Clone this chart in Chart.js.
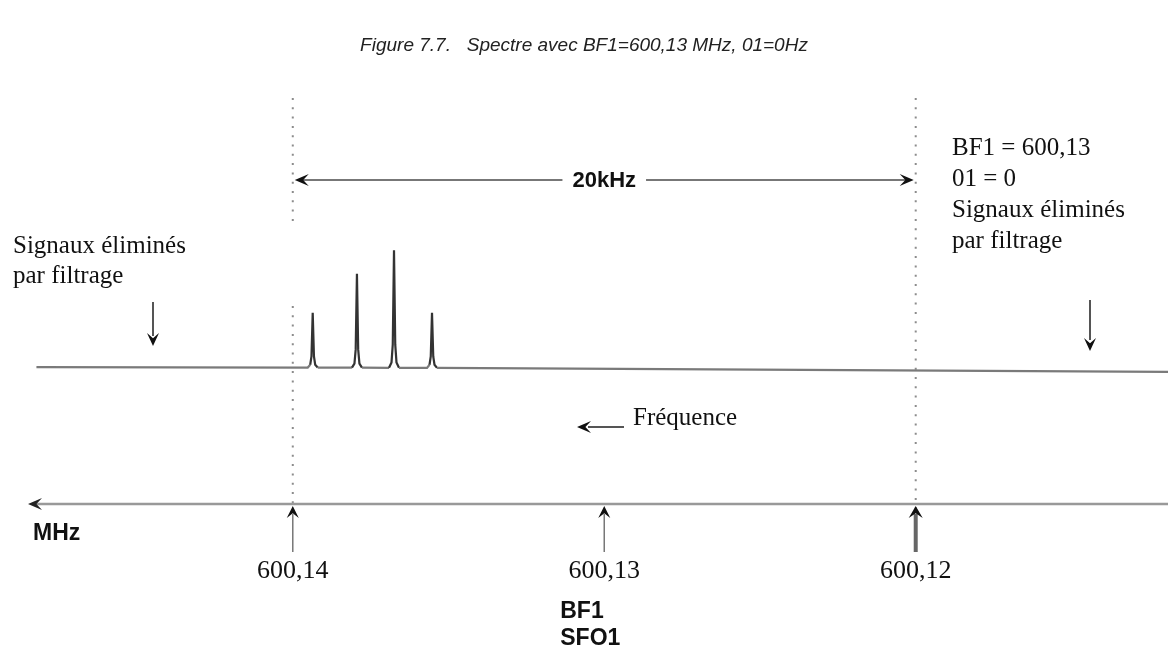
<!DOCTYPE html>
<html>
<head>
<meta charset="utf-8">
<script src="https://cdn.jsdelivr.net/npm/chart.js@4.4.1/dist/chart.umd.min.js"></script>
<style>
  html, body { margin: 0; padding: 0; background: #fff; }
  #wrap { width: 1168px; height: 648px; position: relative; }
</style>
</head>
<body>
<div id="wrap"><canvas id="spectrum"></canvas></div>
<script>
/* =========================
   DATA
========================= */
// spectrum trace: frequency (MHz) and relative intensity (%), baseline + 4 lines
const specMHz = [
  600.14823,
  600.13952, 600.13944, 600.13940, 600.13936, 600.13932, 600.13928, 600.13920,
  600.13810, 600.13802, 600.13798, 600.13794, 600.13790, 600.13786, 600.13778,
  600.13691, 600.13683, 600.13679, 600.13675, 600.13671, 600.13667, 600.13659,
  600.13569, 600.13561, 600.13557, 600.13553, 600.13549, 600.13545, 600.13537,
  600.11190
];
const specInt = [
  1,
  0.6, 3, 10, 47, 10, 3, 0.6,
  0.5, 4, 16, 80, 16, 4, 0.5,
  0.4, 5, 20, 100, 20, 5, 0.4,
  0.3, 3, 10, 47, 10, 3, 0.3,
  -3
];

// frequency axis ticks
const tickMHz = [600.14, 600.13, 600.12];
const tickLabels = ["600,14", "600,13", "600,12"];

// spectral window (20 kHz) edges
const windowMHz = [600.14, 600.12];
const windowLabel = "20kHz";

const titleText = "Figure 7.7.   Spectre avec BF1=600,13 MHz, 01=0Hz";
const leftNote = ["Signaux éliminés", "par filtrage"];
const rightNote = ["BF1 = 600,13", "01 = 0", "Signaux éliminés", "par filtrage"];
const freqNote = "Fréquence";
const unitLabel = "MHz";
const centerNote = ["BF1", "SFO1"];

/* =========================
   HELPERS
========================= */
const SERIF = "'Liberation Serif', 'Times New Roman', serif";
const SANS = "'Liberation Sans', Arial, sans-serif";

// swept arrow head, tip at (x,y), pointing along (dx,dy)
function arrowHead(ctx, x, y, dx, dy, len, half) {
  const nx = -dy, ny = dx;
  const bx = x - dx * len, by = y - dy * len;
  ctx.beginPath();
  ctx.moveTo(x, y);
  ctx.lineTo(bx + nx * half, by + ny * half);
  ctx.lineTo(x - dx * len * 0.6, y - dy * len * 0.6);
  ctx.lineTo(bx - nx * half, by - ny * half);
  ctx.closePath();
  ctx.fill();
}

function line(ctx, x1, y1, x2, y2) {
  ctx.beginPath();
  ctx.moveTo(x1, y1);
  ctx.lineTo(x2, y2);
  ctx.stroke();
}

/* =========================
   ANNOTATIONS
========================= */
const overlay = {
  id: "overlay",
  beforeDatasetsDraw(chart) {
    const { ctx, scales: { x } } = chart;
    const xl = x.getPixelForValue(windowMHz[0]);
    const xr = x.getPixelForValue(windowMHz[1]);
    ctx.save();
    ctx.strokeStyle = "#8c8c8c";
    ctx.lineWidth = 2;
    ctx.setLineDash([2, 7.3]);
    [[xl, 98, 224], [xl, 306, 508], [xr, 98, 512]].forEach(([px, a, b]) => line(ctx, px, a, px, b));
    ctx.restore();
  },
  afterDatasetsDraw(chart) {
    const { ctx, scales: { x } } = chart;
    const xl = x.getPixelForValue(windowMHz[0]);
    const xr = x.getPixelForValue(windowMHz[1]);
    ctx.save();

    // title
    ctx.fillStyle = "#222";
    ctx.font = "italic 19px " + SANS;
    ctx.textAlign = "center";
    ctx.textBaseline = "middle";
    ctx.fillText(titleText, 584, 46);

    // 20 kHz window arrow
    const midX = (xl + xr) / 2;
    ctx.font = "bold 22px " + SANS;
    const lw = ctx.measureText(windowLabel).width;
    ctx.fillStyle = "#111";
    ctx.fillText(windowLabel, midX, 181);
    ctx.strokeStyle = "#777";
    ctx.lineWidth = 2;
    line(ctx, xl + 8, 180, midX - lw / 2 - 10, 180);
    line(ctx, midX + lw / 2 + 10, 180, xr - 8, 180);
    ctx.fillStyle = "#111";
    arrowHead(ctx, xl + 2, 180, -1, 0, 14, 6);
    arrowHead(ctx, xr - 2, 180, 1, 0, 14, 6);

    // notes
    ctx.textAlign = "left";
    ctx.textBaseline = "alphabetic";
    ctx.font = "25px " + SERIF;
    ctx.fillStyle = "#111";
    leftNote.forEach((t, i) => ctx.fillText(t, 13, 253 + i * 30));
    rightNote.forEach((t, i) => ctx.fillText(t, 952, 155 + i * 31));
    ctx.fillText(freqNote, 633, 425);

    // down arrows to the filtered regions
    ctx.strokeStyle = "#555";
    ctx.lineWidth = 2;
    line(ctx, 153, 302, 153, 336);
    arrowHead(ctx, 153, 346, 0, 1, 13, 6);
    line(ctx, 1090, 300, 1090, 340);
    arrowHead(ctx, 1090, 351, 0, 1, 13, 6);

    // "Fréquence" arrow
    line(ctx, 588, 427, 624, 427);
    arrowHead(ctx, 577, 427, -1, 0, 14, 6);

    // frequency axis
    ctx.strokeStyle = "#999";
    ctx.lineWidth = 2.5;
    line(ctx, 36, 504, 1168, 504);
    ctx.fillStyle = "#222";
    arrowHead(ctx, 28, 504, -1, 0, 14, 6);

    ctx.font = "bold 23px " + SANS;
    ctx.fillStyle = "#111";
    ctx.fillText(unitLabel, 33, 540);

    // tick arrows and labels
    ctx.textAlign = "center";
    ctx.font = "26px " + SERIF;
    tickMHz.forEach((v, i) => {
      const px = x.getPixelForValue(v);
      const bold = i === tickMHz.length - 1;
      ctx.strokeStyle = bold ? "#666" : "#777";
      ctx.lineWidth = bold ? 4 : 1.5;
      line(ctx, px, 552, px, 514);
      ctx.fillStyle = "#111";
      arrowHead(ctx, px, 506, 0, -1, 12, bold ? 7 : 6);
      ctx.fillText(tickLabels[i], px, 578);
    });

    ctx.textAlign = "left";
    ctx.font = "bold 23px " + SANS;
    const cx = x.getPixelForValue(tickMHz[1]) - 44;
    centerNote.forEach((t, i) => ctx.fillText(t, cx, 618 + i * 27));

    ctx.restore();
  }
};

/* =========================
   CHART
========================= */
new Chart(document.getElementById("spectrum"), {
  type: "scatter",
  data: {
    datasets: [{
      data: specMHz.map((v, i) => ({ x: v, y: specInt[i] })),
      showLine: true,
      borderColor: "#333",
      borderWidth: 2.2,
      pointRadius: 0,
      tension: 0,
      // flat baseline drawn lighter than the peaks
      segment: {
        borderColor: c => (Math.abs(c.p0.parsed.y) < 2 && Math.abs(c.p1.parsed.y) < 4 ? "#7a7a7a" : undefined)
      }
    }]
  },
  options: {
    responsive: true,
    maintainAspectRatio: false,
    animation: false,
    layout: { padding: 0 },
    plugins: { legend: { display: false }, tooltip: { enabled: false } },
    scales: {
      x: { type: "linear", reverse: true, min: 600.1119, max: 600.1494, display: false },
      y: { min: -237, max: 312, display: false }
    }
  },
  plugins: [overlay]
});
</script>
</body>
</html>
